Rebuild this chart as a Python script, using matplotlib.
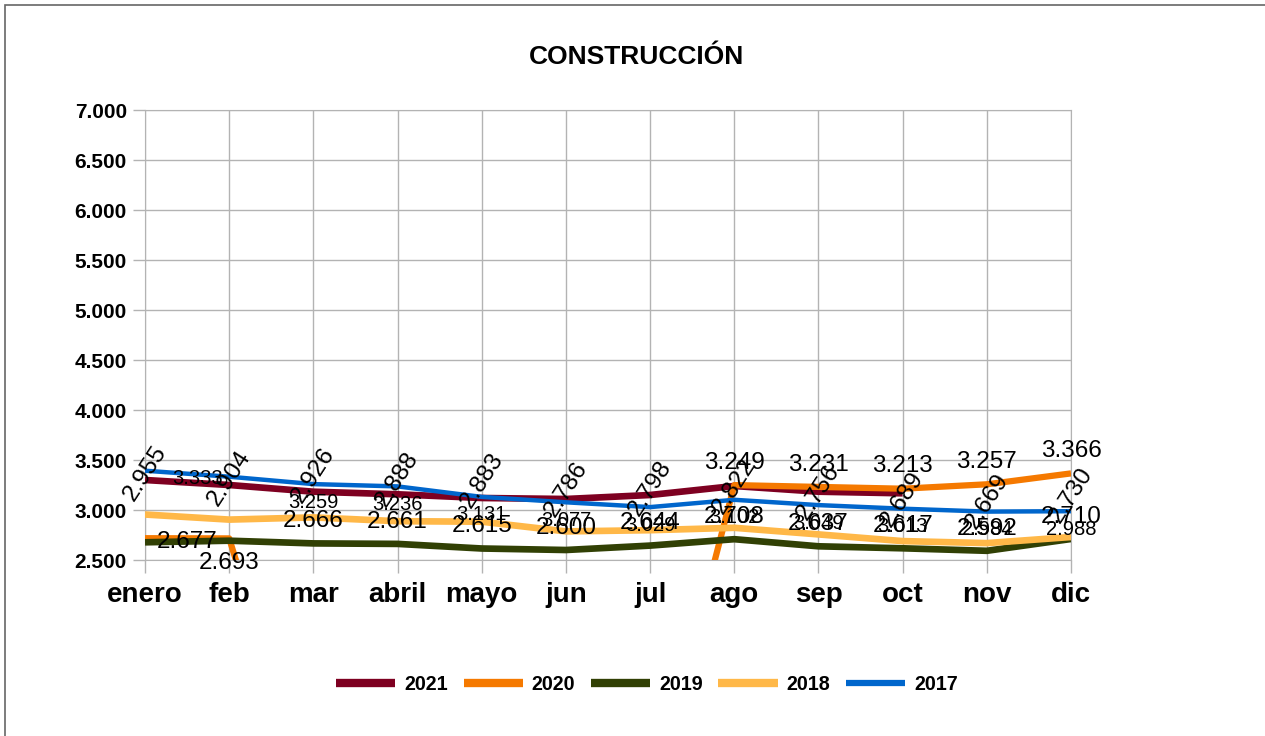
import numpy as np
import matplotlib
matplotlib.use('Agg')
import matplotlib.pyplot as plt
from matplotlib.patches import Rectangle

plt.rcParams['font.family'] = ['Liberation Sans', 'DejaVu Sans']

meses = ['enero', 'feb', 'mar', 'abril', 'mayo', 'jun', 'jul', 'ago', 'sep', 'oct', 'nov', 'dic']
anios = ['2021', '2020', '2019', '2018', '2017']

v2021 = [3300, 3250, 3183, 3157, 3120, 3110, 3150, 3240, 3183, 3167]
v2020 = [2718, 2716, 0, 0, 0, 0, 0, 3249, 3231, 3213, 3257, 3366]
v2019 = [2677, 2693, 2666, 2661, 2615, 2600, 2644, 2708, 2637, 2617, 2592, 2710]
v2018 = [2955, 2904, 2926, 2888, 2883, 2786, 2798, 2822, 2756, 2689, 2669, 2730]
v2017 = [3393, 3333, 3259, 3236, 3131, 3077, 3029, 3102, 3049, 3013, 2984, 2988]

colores = ['#7e0021', '#f57900', '#314004', '#ffb848', '#0066cc']
grosores = [4.8, 4.5, 4.8, 4.8, 3.2]

fig = plt.figure(figsize=(12.65, 7.36), dpi=100)
ax = fig.add_axes([145 / 1265, 1 - 560 / 736, (1071 - 145) / 1265, 450 / 736])

series = [v2021, v2020, v2019, v2018, v2017]
for nombre, vals, c, lw in zip(anios, series, colores, grosores):
    ax.plot(np.arange(len(vals)), vals, color=c, lw=lw, label=nombre,
            solid_joinstyle='round', solid_capstyle='butt', zorder=3)


def fmt(v):
    return f'{v:,.0f}'.replace(',', '.')


# etiquetas de datos
for i in range(7, 12):
    ax.annotate(fmt(v2020[i]), (i, v2020[i]), xytext=(0, 16), textcoords='offset points',
                ha='center', va='center', fontsize=17.5, zorder=5, annotation_clip=False)

off_2019 = {0: (30, 0), 1: (0, -16)}
for i, v in enumerate(v2019):
    dx, dy = off_2019.get(i, (0, 16))
    ax.annotate(fmt(v), (i, v), xytext=(dx, dy), textcoords='offset points',
                ha='center', va='center', fontsize=17.5, zorder=5, annotation_clip=False)

for i, v in enumerate(v2018):
    ax.annotate(fmt(v), (i, v), xytext=(0, 30), textcoords='offset points',
                ha='center', va='center', fontsize=17.5, rotation=57,
                rotation_mode='anchor', zorder=5, annotation_clip=False)

off_2017 = {1: (-23, -1)}
for i, v in enumerate(v2017):
    if i == 0:
        continue
    dx, dy = off_2017.get(i, (0, -13))
    ax.annotate(fmt(v), (i, v), xytext=(dx, dy), textcoords='offset points',
                ha='center', va='center', fontsize=14.5, zorder=5, annotation_clip=False)

ax.set_xlim(0, 11)
ax.set_ylim(2500, 7000)
ax.set_xticks(np.arange(12))
ax.set_xticklabels(meses, fontsize=20, fontweight='bold')
yt = np.arange(2500, 7001, 500)
ax.set_yticks(yt)
ax.set_yticklabels([fmt(v) for v in yt], fontsize=15, fontweight='bold')
ax.tick_params(axis='both', length=9, color='#b3b3b3', width=1)
ax.tick_params(axis='x', pad=7)
ax.tick_params(axis='y', pad=4)
ax.grid(True, color='#b3b3b3', lw=1)
ax.set_axisbelow(True)
for s in ax.spines.values():
    s.set_color('#b3b3b3')

fig.text(636 / 1265, 1 - 57 / 736, 'CONSTRUCCIÓN', ha='center', va='center',
         fontsize=19, fontweight='bold')

leg = fig.legend(loc='center', bbox_to_anchor=(647 / 1265, 1 - 684 / 736), ncol=5,
                 frameon=False, prop={'weight': 'bold', 'size': 14.2},
                 handlelength=3.0, handletextpad=0.45, columnspacing=0.8)
for h, lw in zip(leg.get_lines(), [6, 6, 6, 6, 4.5]):
    h.set_linewidth(lw)
    h.set_solid_capstyle('butt')

# marco del grafico
fig.patches.append(Rectangle((5 / 1265, -0.1), 1.2, 1.1 - 5 / 736, transform=fig.transFigure,
                             fill=False, edgecolor='#666666', lw=1.2, clip_on=False))

fig.savefig('out.png', dpi=100)
